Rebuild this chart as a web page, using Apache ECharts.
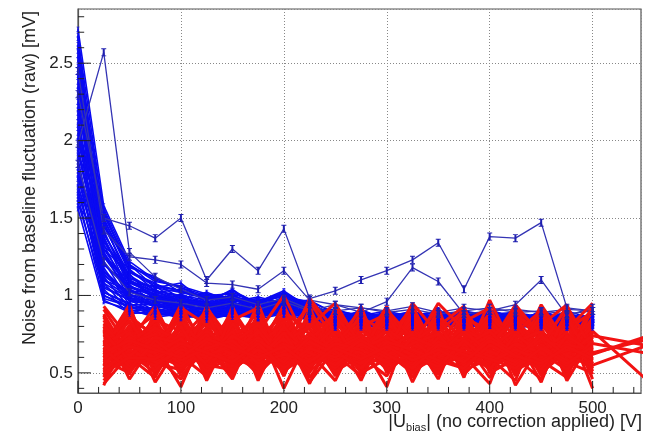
<!DOCTYPE html>
<html><head><meta charset="utf-8">
<script src="https://cdn.jsdelivr.net/npm/echarts@6/dist/echarts.min.js"></script>
<style>html,body{margin:0;padding:0;background:#fff}#c{width:650px;height:438px}</style>
</head><body><div id="c"></div>
<script>
// bias voltages [V]
const voltages = [0,25,50,75,100,125,150,175,200,225,250,275,300,325,350,375,400,425,450,475,500,550];
const xTickValues = [0,100,200,300,400,500];
const xMinorTicks = [20,40,60,80,120,140,160,180,220,240,260,280,320,340,360,380,420,440,460,480,520,540];
const yTickValues = [0.5,1,1.5,2,2.5];
const yMinorTicks = [0.4,0.6,0.7,0.8,0.9,1.1,1.2,1.3,1.4,1.6,1.7,1.8,1.9,2.1,2.2,2.3,2.4,2.6,2.7,2.8];

// blue channels, values at voltages[0..20]
const blueBulk = [
[2.72,1.58,1.22,1.10,1.05,0.98,1.02,0.95,1.00,0.93,.87,.89,.85,.88,.83,.86,.89,.84,.87,.83,.86],
[2.66,1.52,1.18,1.12,1.02,1.00,0.97,0.96,1.03,0.92,.89,.85,.88,.84,.87,.83,.87,.88,.82,.87,.82],
[2.60,1.45,1.20,1.05,1.08,0.95,1.04,0.92,0.98,0.95,.84,.87,.90,.82,.85,.89,.84,.81,.88,.84,.87],
[2.52,1.55,1.15,1.08,0.98,1.02,0.96,0.99,0.95,0.97,.88,.83,.86,.90,.84,.82,.91,.85,.83,.89,.81],
[2.46,1.40,1.12,1.02,1.04,0.97,1.00,0.94,1.02,0.90,.91,.86,.82,.87,.90,.85,.83,.89,.86,.81,.85],
[2.41,1.48,1.08,1.06,0.95,0.99,0.93,0.97,0.96,0.94,.83,.90,.85,.83,.86,.90,.87,.82,.90,.85,.83],
[2.35,1.35,1.10,0.98,1.00,0.93,0.98,0.90,0.99,0.91,.87,.82,.89,.85,.81,.87,.90,.86,.84,.88,.82],
[2.30,1.42,1.05,1.00,0.97,0.96,0.95,0.93,0.94,0.96,.85,.88,.83,.89,.84,.81,.85,.90,.81,.83,.88],
[2.25,1.30,1.14,0.96,1.01,0.94,1.01,0.91,0.97,0.89,.89,.84,.87,.81,.88,.86,.82,.84,.89,.80,.84],
[2.20,1.38,1.02,1.04,0.93,0.98,0.92,0.95,1.00,0.93,.82,.91,.84,.86,.83,.89,.87,.80,.85,.87,.82],
[2.15,1.25,1.07,0.95,0.99,0.91,0.97,0.94,0.92,0.95,.86,.83,.89,.84,.91,.82,.84,.87,.83,.90,.85],
[2.10,1.33,1.00,0.99,0.96,0.95,0.94,0.89,0.98,0.90,.90,.87,.81,.90,.85,.84,.89,.83,.87,.82,.86],
[2.05,1.20,1.04,0.93,0.98,0.92,0.99,0.92,0.95,0.92,.84,.89,.86,.82,.87,.90,.81,.86,.84,.85,.81],
[2.00,1.28,0.98,0.97,0.92,0.96,0.91,0.96,0.93,0.88,.87,.81,.90,.86,.82,.85,.88,.89,.82,.88,.84],
[1.96,1.15,1.01,0.92,0.95,0.90,0.95,0.88,0.97,0.91,.81,.86,.84,.89,.84,.81,.86,.82,.90,.83,.88],
[1.92,1.22,0.96,0.95,0.90,0.93,0.90,0.93,0.91,0.94,.85,.90,.82,.83,.89,.86,.83,.85,.81,.89,.83],
[1.88,1.10,0.99,0.90,0.94,0.88,0.93,0.87,0.94,0.87,.89,.83,.87,.85,.81,.90,.85,.81,.86,.82,.85],
[1.84,1.18,0.94,0.94,0.88,0.92,0.88,0.91,0.90,0.92,.83,.85,.80,.87,.86,.82,.89,.84,.83,.85,.80],
[1.80,1.06,0.97,0.89,0.92,0.87,0.92,0.90,0.93,0.89,.80,.88,.85,.81,.84,.87,.82,.88,.85,.81,.87],
[1.76,1.12,0.92,0.92,0.87,0.90,0.89,0.86,0.91,0.88,.86,.82,.83,.86,.80,.83,.84,.82,.89,.84,.82],
[1.72,1.02,0.95,0.88,0.90,0.86,0.91,0.89,0.88,0.91,.82,.84,.87,.80,.85,.81,.87,.85,.80,.87,.83],
[1.68,1.08,0.90,0.91,0.86,0.89,0.87,0.92,0.89,0.86,.84,.80,.82,.84,.83,.85,.80,.83,.84,.80,.84],
[1.64,0.98,0.93,0.87,0.89,0.85,0.90,0.85,0.92,0.88,.79,.85,.80,.83,.87,.80,.84,.81,.82,.83,.81],
[1.60,1.04,0.88,0.90,0.85,0.88,0.86,0.88,0.87,0.90,.81,.82,.84,.82,.81,.84,.82,.80,.87,.81,.86],
[1.56,0.96,0.91,0.86,0.88,0.84,0.88,0.87,0.90,0.85,.83,.79,.81,.86,.79,.82,.85,.84,.79,.85,.80],
[2.68,1.20,1.06,1.01,0.96,0.94,0.99,0.92,0.96,0.90,.85,.89,.83,.87,.84,.87,.83,.87,.82,.86,.82],
[1.62,1.50,1.16,1.07,1.03,0.99,0.96,0.98,0.94,0.93,.87,.84,.88,.83,.88,.84,.88,.82,.87,.83,.87],
[2.55,1.05,0.97,0.94,0.91,0.91,0.92,0.90,0.95,0.87,.82,.86,.82,.85,.82,.83,.81,.85,.81,.82,.81],
[1.75,1.45,1.13,1.03,1.00,0.97,1.03,0.95,1.01,0.94,.88,.87,.86,.88,.87,.88,.87,.83,.89,.85,.83],
[2.38,1.00,0.93,0.90,0.89,0.87,0.89,0.88,0.91,0.86,.81,.83,.81,.82,.80,.81,.83,.82,.80,.82,.82],
[1.90,1.56,1.20,1.09,1.06,1.01,0.98,0.97,0.99,0.96,.89,.88,.87,.86,.90,.86,.85,.87,.86,.88,.85],
[2.18,0.97,0.89,0.88,0.87,0.86,0.87,0.86,0.89,0.85,.80,.81,.79,.81,.81,.79,.82,.79,.81,.80,.79],
[1.58,1.35,1.09,1.00,0.97,0.95,0.97,0.93,0.98,0.92,.85,.86,.89,.85,.83,.87,.86,.85,.83,.87,.86],
[2.62,1.32,1.17,1.03,0.99,0.93,0.96,0.91,0.97,0.89,.83,.85,.82,.84,.86,.81,.83,.86,.82,.84,.83],
[2.48,1.10,1.03,0.96,0.94,0.90,0.93,0.89,0.92,0.87,.86,.81,.85,.82,.83,.85,.81,.83,.85,.81,.84],
[2.33,1.53,1.19,1.11,1.05,1.00,1.01,0.96,1.02,0.93,.88,.86,.87,.89,.85,.88,.86,.88,.84,.86,.87],
[2.22,1.46,1.11,1.05,1.02,0.98,0.97,0.95,0.96,0.92,.84,.88,.83,.85,.88,.83,.88,.84,.86,.84,.83],
[2.12,1.02,0.94,0.91,0.90,0.88,0.90,0.87,0.90,0.86,.81,.84,.80,.83,.82,.84,.80,.82,.83,.79,.82],
[2.02,1.40,1.10,1.02,0.98,0.94,0.98,0.92,0.99,0.90,.87,.83,.88,.84,.86,.82,.87,.84,.81,.86,.85],
[1.94,1.30,1.06,0.99,0.95,0.93,0.94,0.91,0.94,0.89,.83,.87,.84,.87,.81,.86,.84,.87,.83,.85,.81],
[1.86,1.00,0.92,0.89,0.87,0.86,0.88,0.85,0.88,0.84,.79,.82,.81,.79,.82,.80,.81,.80,.82,.79,.81],
[1.78,1.37,1.08,1.01,0.96,0.94,0.95,0.93,0.96,0.90,.85,.86,.83,.87,.84,.85,.87,.81,.84,.86,.84],
[1.70,1.25,1.03,0.98,0.94,0.91,0.93,0.90,0.93,0.88,.82,.84,.86,.83,.85,.83,.82,.85,.81,.83,.85],
[1.66,1.14,0.99,0.93,0.91,0.89,0.91,0.88,0.92,0.87,.84,.81,.83,.81,.84,.81,.84,.81,.83,.82,.80],
[2.58,1.26,1.09,1.02,0.97,0.95,0.97,0.93,0.97,0.91,.86,.85,.84,.86,.83,.86,.85,.83,.86,.83,.85],
[2.42,1.16,1.01,0.95,0.93,0.90,0.92,0.89,0.93,0.88,.83,.87,.81,.84,.85,.82,.86,.82,.81,.85,.82],
[2.28,1.08,0.98,0.93,0.91,0.88,0.90,0.88,0.90,0.86,.85,.80,.84,.80,.83,.84,.80,.84,.82,.80,.83],
[1.98,1.49,1.15,1.06,1.03,0.99,0.99,0.96,1.01,0.93,.87,.88,.85,.88,.86,.87,.85,.86,.88,.84,.86],
[1.82,1.28,1.04,0.97,0.93,0.92,0.94,0.90,0.95,0.88,.84,.85,.86,.84,.82,.85,.83,.86,.84,.82,.84],
[2.08,1.13,1.00,0.94,0.92,0.89,0.92,0.88,0.91,0.87,.82,.83,.82,.83,.85,.81,.85,.81,.83,.84,.81]
];
// noisy blue channels, values at voltages[0..20]
const blueNoisy = [
[1.98,2.57,1.28,1.12,1.04,0.97,0.99,0.94,0.98,0.91,0.90,0.92,0.89,0.91,0.88,0.90,0.92,0.89,0.90,0.88,0.90],
[2.30,1.50,1.45,1.37,1.50,1.10,1.30,1.16,1.43,0.98,1.03,1.10,1.16,1.23,1.34,1.04,1.38,1.37,1.47,0.92,0.90],
[1.85,1.22,1.02,0.97,0.95,0.92,0.95,0.91,0.96,0.90,0.94,0.89,0.96,1.18,1.09,0.88,0.90,0.94,1.10,0.87,0.92],
[2.45,1.42,1.25,1.23,1.20,1.08,1.07,1.04,1.16,0.97,0.94,0.92,0.90,0.93,0.89,0.92,0.90,0.91,0.89,0.91,0.90]
];
// red channels, values at voltages[1..] (a few continue to 550 V)
const redChannels = [
[.52,.81,.60,.74,.49,.83,.58,.70,.55,.79,.62,.85,.50,.72,.66,.80,.53,.77,.61,.69,.63],
[.78,.55,.84,.50,.72,.61,.80,.48,.86,.57,.75,.52,.82,.59,.71,.47,.79,.56,.83,.64],
[.65,.90,.54,.79,.63,.51,.88,.60,.73,.49,.84,.67,.56,.90,.52,.76,.64,.87,.50,.74],
[.45,.68,.77,.58,.92,.70,.53,.82,.64,.87,.55,.71,.93,.61,.80,.58,.89,.49,.72,.57],
[.88,.60,.47,.85,.57,.78,.66,.93,.47,.70,.91,.58,.64,.84,.47,.90,.55,.68,.92,.51],
[.58,.76,.69,.41,.80,.55,.74,.52,.91,.62,.48,.80,.73,.46,.85,.63,.71,.58,.47,.86],
[.71,.49,.82,.66,.54,.89,.47,.77,.60,.83,.70,.41,.86,.67,.56,.82,.48,.91,.66,.60],
[.93,.72,.57,.90,.68,.46,.83,.64,.50,.92,.59,.77,.53,.80,.93,.51,.75,.62,.85,.46],
[.55,.86,.74,.53,.88,.72,.60,.89,.78,.54,.82,.63,.90,.55,.70,.85,.60,.46,.77,.90],
[.82,.63,.50,.76,.60,.84,.92,.56,.68,.75,.52,.90,.62,.77,.59,.68,.94,.74,.54,.71],
[.48,.75,.88,.62,.74,.57,.68,.85,.44,.66,.87,.55,.78,.51,.88,.73,.52,.84,.60,.79],
[.75,.52,.66,.87,.47,.93,.56,.71,.82,.58,.64,.86,.47,.74,.62,.55,.83,.53,.89,.62,.73],
[.62,.91,.59,.71,.85,.64,.79,.40,.74,.88,.57,.68,.81,.58,.83,.92,.61,.79,.48,.83],
[.86,.58,.79,.48,.66,.80,.51,.87,.63,.45,.79,.61,.70,.92,.49,.66,.77,.57,.75,.55,.67],
[.50,.70,.93,.60,.78,.50,.86,.62,.96,.71,.66,.93,.57,.65,.76,.60,.45,.88,.64,.93],
[.69,.83,.52,.81,.55,.76,.63,.94,.57,.80,.50,.74,.88,.52,.68,.87,.70,.61,.84,.49],
[.80,.46,.71,.57,.89,.60,.75,.54,.86,.64,.93,.50,.66,.85,.61,.43,.86,.73,.52,.76],
[.57,.79,.62,.94,.63,.87,.45,.79,.67,.53,.73,.82,.44,.77,.90,.70,.58,.94,.69,.58],
[.73,.64,.86,.51,.76,.68,.90,.59,.81,.70,.61,.48,.76,.60,.73,.82,.66,.51,.80,.88],
[.60,.88,.55,.83,.45,.79,.58,.73,.52,.86,.68,.79,.59,.88,.54,.64,.91,.70,.58,.66],
[.84,.57,.77,.68,.82,.53,.70,.50,.90,.61,.84,.57,.92,.63,.79,.57,.73,.81,.94,.53],
[.47,.73,.63,.89,.59,.74,.84,.68,.58,.77,.54,.89,.69,.49,.86,.77,.50,.66,.71,.81],
[.67,.94,.48,.74,.70,.86,.53,.90,.75,.48,.81,.65,.84,.71,.57,.97,.63,.86,.55,.68],
[.91,.66,.81,.56,.84,.62,.78,.57,.64,.83,.63,.74,.51,.83,.69,.52,.80,.48,.78,.95],
[.54,.77,.68,.86,.51,.82,.61,.83,.70,.59,.89,.53,.79,.56,.81,.67,.87,.77,.62,.74,.68],
[.77,.51,.90,.64,.79,.57,.88,.48,.84,.67,.58,.84,.63,.90,.50,.80,.56,.63,.87,.59],
[.63,.84,.58,.79,.61,.91,.66,.76,.43,.81,.71,.60,.87,.68,.75,.61,.76,.90,.57,.77,.47],
[.43,.62,.75,.67,.87,.66,.49,.67,.79,.57,.77,.70,.55,.79,.64,.86,.42,.69,.82,.40],
[.70,.90,.61,.46,.71,.48,.81,.60,.87,.74,.45,.81,.74,.61,.89,.55,.82,.59,.67,.85],
[.59,.68,.84,.77,.57,.85,.72,.88,.62,.91,.69,.56,.89,.53,.67,.79,.68,.83,.74,.63,.71],
[.87,.55,.64,.92,.81,.71,.59,.74,.93,.52,.80,.88,.60,.81,.58,.72,.88,.55,.90,.70],
[.64,.80,.44,.70,.67,.58,.95,.53,.72,.85,.56,.67,.83,.66,.92,.50,.59,.81,.63,.80],
[.51,.71,.80,.55,.93,.63,.69,.81,.55,.69,.86,.76,.58,.87,.71,.88,.74,.44,.86,.56],
[.79,.60,.70,.84,.64,.75,.82,.61,.98,.77,.62,.91,.72,.57,.84,.63,.92,.76,.59,.91],
[.42,.78,.57,.72,.90,.52,.76,1.00,.66,.56,.78,.64,.95,.75,.60,.84,.65,.87,.45,.73],
[.68,.87,.73,.61,.48,.89,.64,.70,.80,.95,.67,.78,.67,.95,.78,.69,.84,.67,.93,.65],
[.62,.70,.58,.66,.73,.60,.68,.55,.71,.63,.58,.74,.61,.69,.56,.72,.64,.59,.70,.61],
[.74,.59,.67,.55,.62,.71,.57,.80,.60,.68,.75,.59,.66,.54,.73,.60,.70,.77,.56,.67],
[.56,.66,.79,.70,.58,.64,.73,.61,.69,.55,.66,.72,.57,.76,.63,.58,.67,.62,.73,.58],
[.66,.53,.61,.75,.68,.56,.62,.69,.53,.72,.60,.65,.76,.59,.65,.74,.56,.71,.60,.75],
[.60,.74,.52,.63,.56,.69,.81,.58,.76,.60,.70,.52,.63,.71,.55,.66,.78,.55,.66,.52],
[.81,.62,.72,.59,.77,.65,.55,.74,.63,.80,.55,.69,.58,.64,.80,.54,.62,.73,.51,.69],
[.53,.59,.64,.80,.52,.73,.66,.52,.61,.57,.64,.78,.52,.60,.69,.62,.71,.50,.64,.72],
[.69,.77,.56,.52,.65,.58,.70,.66,.58,.64,.72,.57,.70,.81,.58,.68,.55,.64,.76,.62],
[.58,.50,.70,.64,.60,.77,.54,.63,.72,.51,.61,.66,.75,.55,.67,.77,.60,.68,.57,.50],
[.72,.67,.60,.73,.53,.63,.77,.57,.65,.69,.53,.62,.68,.62,.52,.59,.73,.57,.69,.64],
[.49,.63,.69,.57,.69,.54,.61,.72,.55,.62,.68,.55,.60,.67,.72,.57,.62,.75,.53,.68],
[.64,.72,.53,.68,.59,.67,.50,.65,.69,.56,.60,.71,.54,.73,.60,.65,.52,.60,.71,.56],
[.77,.56,.66,.61,.75,.51,.67,.59,.61,.73,.57,.64,.71,.58,.63,.53,.68,.56,.62,.74],
[.55,.69,.75,.53,.64,.70,.59,.76,.51,.65,.74,.61,.56,.62,.77,.63,.58,.72,.66,.60],
[.61,.76,.51,.70,.62,.59,.73,.55,.67,.58,.66,.73,.64,.56,.60,.70,.66,.54,.70,.54],
[.70,.54,.68,.56,.70,.62,.57,.69,.58,.71,.50,.59,.69,.75,.55,.64,.57,.65,.55,.70],
[.52,.65,.57,.63,.57,.74,.64,.51,.64,.53,.70,.63,.50,.63,.69,.52,.75,.62,.68,.65],
[.67,.61,.73,.69,.51,.61,.52,.64,.70,.62,.56,.68,.62,.52,.66,.61,.55,.67,.58,.57],
[.59,.73,.62,.54,.67,.56,.71,.60,.55,.67,.63,.54,.73,.66,.58,.73,.63,.52,.74,.63],
[.76,.58,.55,.65,.61,.68,.58,.68,.63,.55,.69,.60,.55,.70,.62,.56,.69,.63,.52,.71],
[.57,.67,.63,.72,.55,.52,.65,.57,.73,.64,.53,.70,.65,.58,.53,.68,.60,.74,.61,.55],
[.65,.52,.71,.58,.66,.71,.56,.62,.57,.69,.65,.57,.61,.54,.71,.57,.65,.58,.65,.62],
[.50,.60,.59,.69,.63,.57,.69,.53,.66,.60,.71,.62,.53,.68,.64,.59,.53,.66,.56,.67],
[.63,.71,.65,.60,.72,.66,.60,.67,.54,.66,.59,.67,.58,.65,.57,.71,.61,.56,.67,.59]
];

const FONT = '"Liberation Sans", Arial, Helvetica, sans-serif';
const errBar = 'path://M0,0H4V1.2H2.8V8.8H4V10H0V8.8H1.2V1.2H0Z';
const YMIN = 0.37, YMAX = 2.85, XMIN = 0, XMAX = 547;
// tick lengths expressed in axis units (about 12 px and 6 px)
const X_MAJOR_LEN = 0.078, X_MINOR_LEN = 0.039, Y_MAJOR_LEN = 12.5, Y_MINOR_LEN = 6;
function pts(vals, offset) { return vals.map((v, i) => [voltages[i + offset], v]); }

const series = [];
blueBulk.forEach(vals => series.push({
  type: 'line', data: pts(vals, 0), silent: true, animation: false,
  symbol: errBar, symbolSize: [3, 5], showAllSymbol: true,
  lineStyle: { color: '#0a0af2', width: 1.6 }, itemStyle: { color: '#0a0af2' }
}));
blueNoisy.forEach(vals => series.push({
  type: 'line', data: pts(vals, 0), silent: true, animation: false,
  symbol: errBar, symbolSize: [5, 8], showAllSymbol: true,
  lineStyle: { color: '#3434b4', width: 1.3 }, itemStyle: { color: '#2020b0' }
}));
redChannels.forEach(vals => series.push({
  type: 'line', data: pts(vals, 1), silent: true, animation: false,
  symbol: 'none',
  lineStyle: { color: '#f21212', width: 3 }
}));

// inside axis ticks, each as a short two-point line on the axes' scales
function tickSeries(p1, p2) {
  return { type: 'line', data: [p1, p2], silent: true, animation: false, symbol: 'none', z: 5,
           lineStyle: { color: '#222', width: 1 } };
}
xTickValues.forEach(v => series.push(tickSeries([v, YMIN], [v, YMIN + X_MAJOR_LEN])));
xMinorTicks.forEach(v => series.push(tickSeries([v, YMIN], [v, YMIN + X_MINOR_LEN])));
yTickValues.forEach(v => series.push(tickSeries([XMIN, v], [XMIN + Y_MAJOR_LEN, v])));
yMinorTicks.forEach(v => series.push(tickSeries([XMIN, v], [XMIN + Y_MINOR_LEN, v])));

const chart = echarts.init(document.getElementById('c'), null, { renderer: 'canvas' });
chart.setOption({
  backgroundColor: '#fff',
  animation: false,
  grid: { left: 78, right: 9, top: 9, bottom: 45, show: true, borderColor: '#555', borderWidth: 1.2, backgroundColor: 'transparent' },
  xAxis: {
    type: 'value', min: XMIN, max: XMAX, interval: 100,
    axisLine: { show: true, lineStyle: { color: '#555', width: 1.2 } },
    axisTick: { show: false },
    axisLabel: { show: true, customValues: xTickValues, fontSize: 17, fontFamily: FONT, color: '#222', margin: 7 },
    splitLine: { show: true, lineStyle: { color: '#888', type: [1, 2], width: 1 } }
  },
  yAxis: {
    type: 'value', min: YMIN, max: YMAX,
    axisLine: { show: true, lineStyle: { color: '#555', width: 1.2 } },
    axisTick: { show: false },
    axisLabel: { show: true, customValues: yTickValues, fontSize: 17, fontFamily: FONT, color: '#222', margin: 5 },
    splitLine: { show: true, lineStyle: { color: '#888', type: [1, 2], width: 1 } }
  },
  graphic: [{
    type: 'text', x: 30, y: 178, rotation: Math.PI / 2,
    style: { text: 'Noise from baseline fluctuation (raw) [mV]', font: '18px ' + FONT, fill: '#222', align: 'center', verticalAlign: 'middle' }
  }, {
    type: 'text', x: 642, y: 422,
    style: {
      text: '|U{s|bias}| (no correction applied) [V]', font: '18px ' + FONT, fill: '#222',
      align: 'right', verticalAlign: 'middle', lineHeight: 22,
      rich: { s: { fontSize: 11, fontFamily: FONT, fill: '#222', lineHeight: 11, verticalAlign: 'bottom' } }
    }
  }],
  series: series
});
</script>
</body></html>
